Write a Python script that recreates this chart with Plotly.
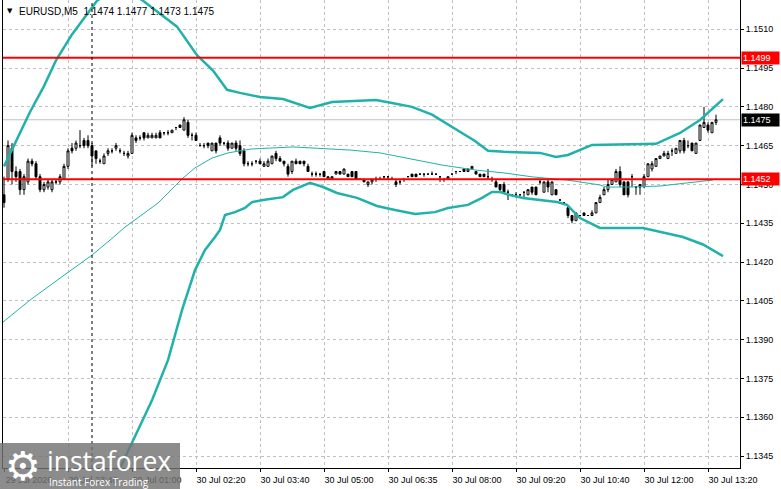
import plotly.graph_objects as go

# EURUSD M5 bars, index 0 = first bar on screen
opens = [
    1.1446, 1.1452, 1.1464, 1.1455, 1.1455, 1.1448, 1.1451, 1.1459, 1.1458, 1.1453,
    1.1448, 1.1449, 1.1448, 1.1451, 1.1451, 1.1452, 1.1457, 1.1464, 1.1464, 1.1465,
    1.1467, 1.1467, 1.1465, 1.1463, 1.1459, 1.1458, 1.1462, 1.1463, 1.1464, 1.1463,
    1.1462, 1.1461, 1.1462, 1.1468, 1.1468, 1.1470, 1.1468, 1.1468, 1.1468, 1.1470,
    1.1470, 1.1470, 1.1470, 1.1472, 1.1473, 1.1471, 1.1474, 1.1469, 1.1469, 1.1465,
    1.1465, 1.1466, 1.1463, 1.1466, 1.1468, 1.1466, 1.1466, 1.1464, 1.1466, 1.1465,
    1.1463, 1.1458, 1.1458, 1.1459, 1.1459, 1.1457, 1.1457, 1.1458, 1.1462, 1.1460,
    1.1459, 1.1457, 1.1455, 1.1459, 1.1459, 1.1459, 1.1457, 1.1454, 1.1454, 1.1454,
    1.1455, 1.1452, 1.1452, 1.1454, 1.1455, 1.1454, 1.1454, 1.1455, 1.1455, 1.1452,
    1.1452, 1.1450, 1.1451, 1.1452, 1.1452, 1.1453, 1.1453, 1.1452, 1.1451, 1.1451,
    1.1452, 1.1453, 1.1454, 1.1454, 1.1454, 1.1454, 1.1454, 1.1454, 1.1454, 1.1453,
    1.1452, 1.1452, 1.1454, 1.1455, 1.1455, 1.1456, 1.1455, 1.1456, 1.1455, 1.1454,
    1.1454, 1.1453, 1.1452, 1.1451, 1.1450, 1.1450, 1.1447, 1.1446, 1.1446, 1.1446,
    1.1447, 1.1446, 1.1449, 1.1449, 1.1451, 1.1447, 1.1451, 1.1446, 1.1448, 1.1444,
    1.1443, 1.1441, 1.1438, 1.1436, 1.1438, 1.1439, 1.1438, 1.1438, 1.1439, 1.1443,
    1.1446, 1.1448, 1.1450, 1.1451, 1.1455, 1.1451, 1.1451, 1.1453, 1.1449, 1.1450,
    1.1449, 1.1453, 1.1456, 1.1457, 1.1460, 1.1461, 1.1460, 1.1463, 1.1462, 1.1463,
    1.1467, 1.1465, 1.1466, 1.1462, 1.1467, 1.1472, 1.1473, 1.1470, 1.1474,
]
highs = [
    1.1453, 1.1467, 1.1466, 1.1457, 1.1456, 1.1454, 1.1460, 1.1460, 1.1459, 1.1454,
    1.1451, 1.1452, 1.1452, 1.1452, 1.1454, 1.1458, 1.1464, 1.1466, 1.1467, 1.1471,
    1.1468, 1.1469, 1.1466, 1.1463, 1.1460, 1.1462, 1.1464, 1.1464, 1.1466, 1.1464,
    1.1463, 1.1463, 1.1470, 1.1469, 1.1469, 1.1470, 1.1470, 1.1470, 1.1470, 1.1471,
    1.1470, 1.1471, 1.1471, 1.1472, 1.1473, 1.1476, 1.1475, 1.1470, 1.1470, 1.1466,
    1.1466, 1.1466, 1.1466, 1.1466, 1.1469, 1.1466, 1.1467, 1.1466, 1.1467, 1.1467,
    1.1464, 1.1459, 1.1459, 1.1459, 1.1460, 1.1459, 1.1460, 1.1461, 1.1463, 1.1461,
    1.1459, 1.1458, 1.1459, 1.1460, 1.1459, 1.1459, 1.1458, 1.1455, 1.1455, 1.1454,
    1.1455, 1.1453, 1.1453, 1.1455, 1.1455, 1.1456, 1.1454, 1.1455, 1.1455, 1.1452,
    1.1452, 1.1451, 1.1452, 1.1453, 1.1453, 1.1453, 1.1453, 1.1453, 1.1452, 1.1452,
    1.1452, 1.1453, 1.1454, 1.1454, 1.1454, 1.1454, 1.1454, 1.1455, 1.1454, 1.1453,
    1.1452, 1.1453, 1.1454, 1.1455, 1.1455, 1.1456, 1.1456, 1.1457, 1.1455, 1.1454,
    1.1454, 1.1456, 1.1453, 1.1452, 1.1450, 1.1451, 1.1448, 1.1446, 1.1447, 1.1446,
    1.1447, 1.1448, 1.1449, 1.1449, 1.1452, 1.1451, 1.1452, 1.1451, 1.1448, 1.1444,
    1.1443, 1.1442, 1.1438, 1.1439, 1.1438, 1.1439, 1.1438, 1.1440, 1.1443, 1.1446,
    1.1449, 1.1452, 1.1452, 1.1456, 1.1457, 1.1451, 1.1451, 1.1454, 1.1449, 1.1450,
    1.1454, 1.1458, 1.1459, 1.1460, 1.1461, 1.1463, 1.1463, 1.1464, 1.1464, 1.1467,
    1.1468, 1.1467, 1.1466, 1.1466, 1.1473, 1.1480, 1.1474, 1.1474, 1.1477,
]
lows = [
    1.1441, 1.1451, 1.1450, 1.1451, 1.1446, 1.1446, 1.1450, 1.1457, 1.1452, 1.1447,
    1.1447, 1.1448, 1.1447, 1.1450, 1.1450, 1.1452, 1.1456, 1.1462, 1.1463, 1.1464,
    1.1464, 1.1464, 1.1457, 1.1458, 1.1458, 1.1458, 1.1461, 1.1462, 1.1463, 1.1462,
    1.1461, 1.1460, 1.1462, 1.1466, 1.1467, 1.1467, 1.1468, 1.1468, 1.1468, 1.1468,
    1.1469, 1.1469, 1.1470, 1.1471, 1.1472, 1.1471, 1.1468, 1.1467, 1.1467, 1.1465,
    1.1464, 1.1464, 1.1463, 1.1462, 1.1465, 1.1465, 1.1463, 1.1464, 1.1463, 1.1461,
    1.1457, 1.1457, 1.1457, 1.1458, 1.1458, 1.1457, 1.1457, 1.1458, 1.1459, 1.1459,
    1.1457, 1.1453, 1.1454, 1.1458, 1.1458, 1.1457, 1.1455, 1.1453, 1.1453, 1.1453,
    1.1453, 1.1452, 1.1452, 1.1454, 1.1454, 1.1454, 1.1453, 1.1453, 1.1452, 1.1452,
    1.1451, 1.1449, 1.1450, 1.1451, 1.1452, 1.1452, 1.1452, 1.1452, 1.1449, 1.1450,
    1.1451, 1.1453, 1.1453, 1.1453, 1.1454, 1.1453, 1.1454, 1.1454, 1.1454, 1.1451,
    1.1451, 1.1452, 1.1454, 1.1454, 1.1455, 1.1455, 1.1455, 1.1456, 1.1454, 1.1453,
    1.1453, 1.1452, 1.1451, 1.1449, 1.1447, 1.1447, 1.1444, 1.1446, 1.1445, 1.1446,
    1.1445, 1.1446, 1.1446, 1.1446, 1.1450, 1.1447, 1.1447, 1.1446, 1.1446, 1.1444,
    1.1442, 1.1437, 1.1435, 1.1436, 1.1438, 1.1438, 1.1438, 1.1438, 1.1439, 1.1443,
    1.1446, 1.1447, 1.1450, 1.1451, 1.1449, 1.1446, 1.1445, 1.1449, 1.1446, 1.1446,
    1.1449, 1.1453, 1.1455, 1.1457, 1.1460, 1.1461, 1.1460, 1.1461, 1.1462, 1.1462,
    1.1462, 1.1464, 1.1463, 1.1462, 1.1467, 1.1472, 1.1470, 1.1470, 1.1473,
]
closes = [
    1.1443, 1.1465, 1.1455, 1.1453, 1.1448, 1.1453, 1.1459, 1.1458, 1.1453, 1.1448,
    1.1450, 1.1451, 1.1451, 1.1451, 1.1453, 1.1457, 1.1463, 1.1463, 1.1466, 1.1465,
    1.1465, 1.1465, 1.1461, 1.1460, 1.1459, 1.1461, 1.1463, 1.1463, 1.1465, 1.1463,
    1.1462, 1.1462, 1.1469, 1.1467, 1.1468, 1.1468, 1.1469, 1.1469, 1.1469, 1.1468,
    1.1470, 1.1470, 1.1471, 1.1472, 1.1472, 1.1475, 1.1469, 1.1469, 1.1467, 1.1465,
    1.1465, 1.1465, 1.1466, 1.1463, 1.1466, 1.1466, 1.1464, 1.1466, 1.1464, 1.1462,
    1.1458, 1.1458, 1.1458, 1.1459, 1.1458, 1.1458, 1.1459, 1.1461, 1.1460, 1.1459,
    1.1458, 1.1454, 1.1459, 1.1458, 1.1458, 1.1458, 1.1455, 1.1454, 1.1454, 1.1454,
    1.1453, 1.1453, 1.1453, 1.1455, 1.1454, 1.1456, 1.1453, 1.1453, 1.1452, 1.1452,
    1.1451, 1.1451, 1.1452, 1.1452, 1.1452, 1.1453, 1.1453, 1.1452, 1.1450, 1.1451,
    1.1452, 1.1453, 1.1453, 1.1453, 1.1454, 1.1454, 1.1454, 1.1454, 1.1454, 1.1453,
    1.1452, 1.1453, 1.1454, 1.1455, 1.1455, 1.1455, 1.1456, 1.1457, 1.1454, 1.1453,
    1.1453, 1.1453, 1.1452, 1.1449, 1.1448, 1.1447, 1.1447, 1.1446, 1.1446, 1.1446,
    1.1447, 1.1448, 1.1447, 1.1446, 1.1451, 1.1451, 1.1449, 1.1451, 1.1446, 1.1444,
    1.1443, 1.1438, 1.1436, 1.1439, 1.1438, 1.1438, 1.1438, 1.1439, 1.1443, 1.1445,
    1.1448, 1.1450, 1.1452, 1.1455, 1.1450, 1.1446, 1.1446, 1.1453, 1.1449, 1.1449,
    1.1453, 1.1458, 1.1458, 1.1460, 1.1461, 1.1462, 1.1462, 1.1463, 1.1464, 1.1467,
    1.1463, 1.1465, 1.1463, 1.1466, 1.1473, 1.1474, 1.1471, 1.1474, 1.1475,
]

# bands (bar index, price)
upper_x = [0, 3, 6.5, 10, 13, 17, 21.5, 23.25, 29, 34.75, 43.25, 48.25, 52.25, 55.75,
           59, 64, 69.75, 76.5, 82, 93, 97, 102, 107, 112.75, 117.75, 121, 125, 134,
           138, 141, 147, 163, 169, 174, 179.75]
upper_y = [1.1457, 1.1467, 1.1478, 1.1488, 1.1498, 1.1508, 1.15175, 1.1521, 1.1527,
           1.1521, 1.1511, 1.1500, 1.1494, 1.14866, 1.14854, 1.14838, 1.14830, 1.14796,
           1.14819, 1.14826, 1.14815, 1.14800, 1.14770, 1.14714, 1.14668, 1.14630,
           1.14626, 1.14622, 1.14606, 1.14614, 1.14653, 1.14657, 1.14699, 1.14749,
           1.14830]

middle_x = [-0.25, 6.5, 14, 22, 26.5, 30.25, 38.5, 44.75, 47.75, 52, 56, 61.75, 72.25,
            78.25, 86.5, 94, 101, 109.5, 117.75, 125.25, 132.25, 140.75, 149, 150.75,
            156.5, 164, 170.75, 177.25]
middle_y = [1.13968, 1.14053, 1.14138, 1.14227, 1.14285, 1.14335, 1.14428, 1.14525,
            1.14564, 1.14602, 1.14622, 1.14637, 1.14645, 1.14641, 1.14633, 1.14622,
            1.14602, 1.14575, 1.14556, 1.14544, 1.14529, 1.14517, 1.14498, 1.14490,
            1.14490, 1.14494, 1.14506, 1.14517]

lower_x = [0, 12, 22, 26, 29, 33, 37, 41, 44.5, 47.75, 50.25, 52.75, 54, 55.25, 57.75,
           60.25, 62, 64.75, 69.75, 72.25, 76.5, 79.75, 83.25, 88.25, 93.25, 97.75,
           102.75, 107.75, 111, 116, 119.5, 122, 124, 126.5, 129.75, 138.25, 140.75,
           144, 149, 159.75, 169.75, 174.75, 179.75]
lower_y = [1.1336, 1.1326, 1.1322, 1.1331, 1.13403, 1.13534, 1.13666, 1.13821, 1.14014,
           1.14169, 1.14247, 1.14297, 1.14324, 1.14382, 1.14393, 1.14409, 1.14432,
           1.14440, 1.14451, 1.14479, 1.14506, 1.14490, 1.14467, 1.14448, 1.14417,
           1.14401, 1.14386, 1.14393, 1.14409, 1.14421, 1.14448, 1.14471, 1.14471,
           1.14459, 1.14448, 1.14432, 1.14421, 1.14370, 1.14332, 1.14332, 1.14297,
           1.14268, 1.14223]

tick_bars = [0, 16, 32, 48, 64, 80, 96, 112, 128, 144, 160, 176]
tick_labels = ["29 Jul 2026", "29 Jul 23:40", "30 Jul 01:00", "30 Jul 02:20",
               "30 Jul 03:40", "30 Jul 05:00", "30 Jul 06:35", "30 Jul 08:00",
               "30 Jul 09:20", "30 Jul 10:40", "30 Jul 12:00", "30 Jul 13:20"]
price_ticks = ["1.1345", "1.1360", "1.1375", "1.1390", "1.1405", "1.1420",
               "1.1435", "1.1450", "1.1465", "1.1480", "1.1495", "1.1510"]

resistance = 1.1499
support = 1.1452
last_price = 1.1475
day_separator = 22
header = "EURUSD,M5  1.1474 1.1477 1.1473 1.1475"

TEAL = "#20b2aa"
FONT = "Liberation Sans"

# plot area in pixels (781x489 page)
PL, PR, PT, PB = 3, 740, 0, 468


def paper_x(px):
    return (px - PL) / (PR - PL)


def paper_y(py):
    return (PB - py) / (PB - PT)


def price_tag(fig, price, bg):
    fig.add_annotation(
        x=1, xref="paper", y=price, yref="y",
        text=f"{price:.4f}", showarrow=False,
        xanchor="left", yanchor="middle", xshift=1,
        bgcolor=bg, borderpad=1, width=35, align="left",
        font=dict(family=FONT, size=9, color="white")
    )


def add_watermark(fig):
    fig.add_shape(
        type="rect", xref="paper", yref="paper",
        x0=paper_x(0), x1=paper_x(180), y0=paper_y(489), y1=paper_y(443),
        fillcolor="rgba(115,115,115,0.82)", line=dict(width=0), layer="above"
    )
    fig.add_annotation(
        x=paper_x(23), y=paper_y(466), xref="paper", yref="paper",
        text="⚙", showarrow=False, xanchor="center", yanchor="middle",
        font=dict(family="DejaVu Sans", size=40, color="white")
    )
    fig.add_annotation(
        x=paper_x(45), y=paper_y(461), xref="paper", yref="paper",
        text="instaforex", showarrow=False, xanchor="left", yanchor="middle",
        font=dict(family="Open Sans", size=26.5, color="white")
    )
    fig.add_annotation(
        x=paper_x(47), y=paper_y(482), xref="paper", yref="paper",
        text="Instant Forex Trading", showarrow=False, xanchor="left", yanchor="middle",
        font=dict(family="Open Sans", size=10, color="white")
    )


bars = list(range(len(opens)))

fig = go.Figure()

fig.add_trace(go.Scatter(x=middle_x, y=middle_y, mode="lines",
                         line=dict(color=TEAL, width=1), hoverinfo="skip"))
fig.add_trace(go.Scatter(x=upper_x, y=upper_y, mode="lines",
                         line=dict(color=TEAL, width=2.5), hoverinfo="skip"))
fig.add_trace(go.Scatter(x=lower_x, y=lower_y, mode="lines",
                         line=dict(color=TEAL, width=2.5), hoverinfo="skip"))

fig.add_trace(go.Candlestick(
    x=bars, open=opens, high=highs, low=lows, close=closes,
    increasing=dict(line=dict(color="black", width=1), fillcolor="white"),
    decreasing=dict(line=dict(color="black", width=1), fillcolor="black"),
    whiskerwidth=0
))

# bid line, levels and day separator
fig.add_hline(y=last_price, line=dict(color="#c0c0c0", width=1), layer="below")
fig.add_hline(y=resistance, line=dict(color="red", width=2))
fig.add_hline(y=support, line=dict(color="red", width=2))
fig.add_vline(x=day_separator, line=dict(color="black", width=1, dash="3px,3px"))

price_tag(fig, resistance, "red")
price_tag(fig, support, "red")
price_tag(fig, last_price, "black")

fig.add_annotation(
    x=paper_x(9.5), y=paper_y(11), xref="paper", yref="paper", text="▼",
    showarrow=False, xanchor="center", yanchor="middle",
    font=dict(family="DejaVu Sans", size=7, color="black")
)
fig.add_annotation(
    x=paper_x(17), y=paper_y(11), xref="paper", yref="paper", text=header,
    showarrow=False, xanchor="left", yanchor="middle",
    font=dict(family=FONT, size=10, color="black")
)

add_watermark(fig)

fig.update_layout(
    width=781, height=489,
    margin=dict(l=PL, r=781 - PR, t=PT, b=489 - PB),
    paper_bgcolor="white", plot_bgcolor="white",
    showlegend=False,
    font=dict(family=FONT, size=9, color="black"),
    xaxis_rangeslider_visible=False
)
fig.update_xaxes(
    range=[-0.25, 184], tickvals=tick_bars, ticktext=tick_labels,
    showgrid=True, gridcolor="#c0c0c0", griddash="3px,3px", gridwidth=1,
    showline=True, linecolor="black", linewidth=1, zeroline=False,
    ticks="outside", ticklen=3, tickcolor="black", ticklabelshift=25,
    tickfont=dict(family=FONT, size=9, color="black")
)
fig.update_yaxes(
    side="right", range=[1.13404, 1.15213],
    tickvals=[float(t) for t in price_ticks], ticktext=price_ticks,
    showgrid=True, gridcolor="#c0c0c0", griddash="3px,3px", gridwidth=1,
    showline=True, mirror=True, linecolor="black", linewidth=1, zeroline=False,
    ticks="outside", ticklen=3, tickcolor="black",
    tickfont=dict(family=FONT, size=9, color="black")
)

# the page has a default 8px body margin; drop it so the chart sits at 0,0
fig.write_html("out.html", config={"displayModeBar": False},
               post_script="document.body.style.margin = '0';")
